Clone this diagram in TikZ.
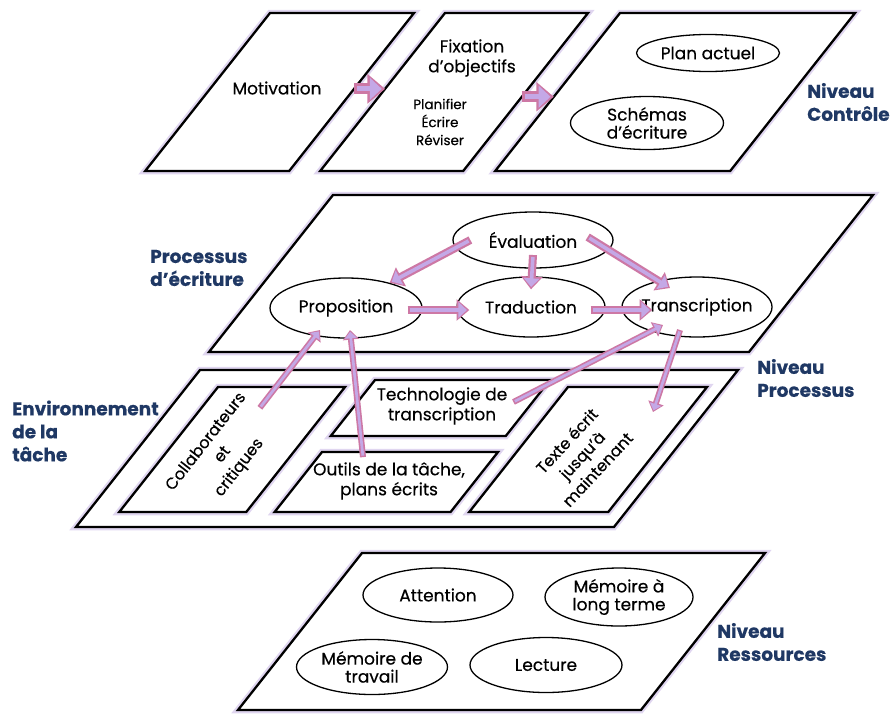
\documentclass[tikz,border=0pt]{standalone}
\usepackage{fontspec}
\setmainfont{Poppins}[FakeBold=0.4]
\usetikzlibrary{arrows.meta,calc,shapes.geometric}

\definecolor{navy}{RGB}{31,56,100}
\definecolor{rosearrow}{RGB}{205,120,165}
\definecolor{lilac}{RGB}{196,168,230}
\definecolor{glow}{RGB}{224,214,240}

% slanted box: name, top left x, top left y, width, height
\newcommand{\pgram}[5]{%
	\draw [box] (#2,#3) coordinate (#1-nw) -- ++(#4,0) coordinate (#1-ne)
		-- ++({-0.79*#5},#5) coordinate (#1-se) -- ++({-#4},0) coordinate (#1-sw) -- cycle;
}

\begin{document}
\begin{tikzpicture}[x=1pt,y=-1pt,
	every node/.style={font=\fontsize{17}{20}\selectfont,inner sep=0pt,align=center},
	box/.style={draw=black,line width=2.3pt,fill=white,preaction={draw=glow,line width=6.5pt}},
	bubble/.style={ellipse,draw=black,line width=1.3pt,fill=white,font=\fontsize{17}{18}\selectfont},
	slant/.style={font=\fontsize{16}{21}\selectfont},
	level/.style={font=\fontsize{18.5}{23}\selectfont\bfseries,text=navy,align=left,anchor=west},
	fat/.style={draw=rosearrow,line width=#1,-{Triangle[length=0pt 1.6,width=0pt 2.6]},
		postaction={draw=lilac,line width=0.45*#1,shorten >=0.3*#1,shorten <=0.25*#1,
			-{Triangle[length=0pt 2.4,width=0pt 4.3]}}}]

\useasboundingbox (0,0) rectangle (894,713);

% control level
\pgram{mot}{270}{13}{144}{158}
\pgram{fix}{445}{13}{143}{158}
\pgram{ctrl}{620}{13}{235}{158}

\node (motiv) at (277,88) {Motivation};
\node (goals) at (472,58) {Fixation\\d'objectifs};
\node [font=\fontsize{13.5}{18}\selectfont] (steps) at (440,122) {Planifier\\Écrire\\Réviser};
\node [bubble,minimum width=143pt,minimum height=37pt] (plan) at (708,53) {Plan actuel};
\node [bubble,minimum width=153pt,minimum height=53pt] (schema) at (647,123) {Schémas\\d'écriture};
\node [level] (ctrllab) at (807,102) {Niveau\\Contrôle};

% process level
\pgram{proc}{333}{195}{540}{157}
\pgram{env}{200}{370}{538}{157}
\pgram{col}{218}{387}{127}{125}
\pgram{tech}{375}{380}{175}{56}
\pgram{tool}{322}{452}{176}{60}
\pgram{txt}{568}{387}{139}{125}

\node [level] (proclab) at (150,268) {Processus\\d'écriture};
\node [bubble,minimum width=160pt,minimum height=56pt] (eval) at (533,240) {Évaluation};
\node [bubble,minimum width=152pt,minimum height=60pt] (prop) at (346,308) {Proposition};
\node [bubble,minimum width=148pt,minimum height=60pt] (trad) at (531,307) {Traduction};
\node [bubble,minimum width=150pt,minimum height=60pt,inner sep=-8pt] (trans) at (697,307) {Transcription};
\node [level] (proclev) at (757,378) {Niveau\\Processus};

\node [level] (envlab) at (12,431) {Environnement\\de la\\tâche};
\node [slant,rotate=52] (collab) at (223,455) {Collaborateurs\\et\\critiques};
\node (techno) at (442,406) {Technologie de\\transcription};
\node (tools) at (389,481) {Outils de la tâche,\\plans écrits};
\node [slant,rotate=47] (texte) at (582,455) {Texte écrit\\jusqu'à\\maintenant};

% resource level
\pgram{res}{362}{553}{403}{157}

\node [bubble,minimum width=150pt,minimum height=54pt] (attn) at (438,595) {Attention};
\node [bubble,minimum width=148pt,minimum height=58pt] (ltm) at (619,597) {Mémoire à\\long terme};
\node [bubble,minimum width=151pt,minimum height=55pt] (wm) at (372,667) {Mémoire de\\travail};
\node [bubble,minimum width=152pt,minimum height=55pt] (read) at (546,665) {Lecture};
\node [level] (reslab) at (717,642) {Niveau\\Ressources};

% arrows
\draw [fat=11pt] ($(mot-ne)!0.48!(mot-se)$) -- ($(fix-nw)!0.48!(fix-sw)$);
\draw [fat=11pt] ($(fix-ne)!0.53!(fix-se)$) -- ($(ctrl-nw)!0.53!(ctrl-sw)$);

\draw [fat=8pt] ($(eval.west)+(18,0)$) -- (prop.30);
\draw [fat=8pt] ($(eval.center)+(0,15)$) -- ($(trad.north)+(0,13)$);
\draw [fat=8pt] ($(eval.east)+(-26,-3)$) -- ($(trans)+(-27,-19)$);
\draw [fat=8pt] ($(prop.east)+(-15,2)$) -- ($(trad.west)+(13,3)$);
\draw [fat=8pt] ($(trad.east)+(-15,3)$) -- ($(trans.west)+(31,3)$);

\draw [fat=6pt] (collab.east) -- ($(prop)+(-26,22)$);
\draw [fat=6pt] ($(tools.north)+(-26,-5)$) -- ($(prop)+(4,22)$);
\draw [fat=6pt] ($(techno.east)+(6,-4)$) -- ($(trans)+(-34,18)$);
\draw [fat=6pt] ($(trans)+(-17,23)$) -- ($(texte)+(71,-43)$);

\end{tikzpicture}
\end{document}
